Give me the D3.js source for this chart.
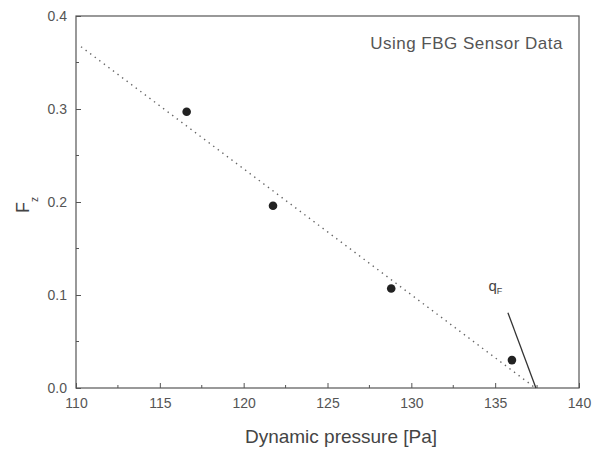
<!DOCTYPE html>
<html>
<head>
<meta charset="utf-8">
<script src="https://cdn.jsdelivr.net/npm/d3@7"></script>
<style>
  body { margin: 0; background: #fff; }
  text { font-family: "Liberation Sans", Arial, sans-serif; }
</style>
</head>
<body>
<svg id="chart" width="595" height="450"></svg>
<script>
var pressure = [116.6, 121.75, 128.8, 136.0];
var fz = [0.297, 0.196, 0.107, 0.030];
var fitX = [110.3, 137.4];
var fitY = [0.367, 0.0];
var arrowX = [135.76, 137.43];
var arrowY = [0.081, 0.0];
var xTicks = [110, 115, 120, 125, 130, 135, 140];
var yTicks = [0.0, 0.1, 0.2, 0.3, 0.4];

var svg = d3.select("#chart");
var margin = { top: 16, right: 16, bottom: 62, left: 76 },
    width = 595 - margin.left - margin.right,
    height = 450 - margin.top - margin.bottom;

var g = svg.append("g").attr("transform", "translate(" + margin.left + "," + margin.top + ")");

var x = d3.scaleLinear().domain([110, 140]).range([0, width]);
var y = d3.scaleLinear().domain([0, 0.4]).range([height, 0]);

var axisColor = "#555";

// minor ticks
var xMinor = d3.range(112.5, 140, 5);
var yMinor = d3.range(0.05, 0.4, 0.1);

var xAxis = g.append("g")
    .attr("transform", "translate(0," + height + ")")
    .call(d3.axisBottom(x).tickValues(xTicks).tickFormat(d3.format("d")).tickSizeInner(-5).tickSizeOuter(0).tickPadding(10));
var yAxis = g.append("g")
    .call(d3.axisLeft(y).tickValues(yTicks).tickFormat(d3.format(".1f")).tickSizeInner(-5).tickSizeOuter(0).tickPadding(9));

[xAxis, yAxis].forEach(function (a) {
    a.select(".domain").remove();
    a.selectAll("line").attr("stroke", axisColor);
    a.selectAll("text").attr("fill", "#555").style("font-size", "14px");
});

g.append("g").selectAll("line")
    .data(xMinor)
    .enter()
    .append("line")
    .attr("x1", function (d) { return x(d); })
    .attr("x2", function (d) { return x(d); })
    .attr("y1", height)
    .attr("y2", height - 3)
    .attr("stroke", axisColor);
g.append("g").selectAll("line")
    .data(yMinor)
    .enter()
    .append("line")
    .attr("x1", 0)
    .attr("x2", 3)
    .attr("y1", function (d) { return y(d); })
    .attr("y2", function (d) { return y(d); })
    .attr("stroke", axisColor);

// frame
g.append("rect")
    .attr("width", width)
    .attr("height", height)
    .attr("fill", "none")
    .attr("stroke", axisColor)
    .attr("stroke-width", 1.2);

// fitted dotted line
g.append("line")
    .attr("x1", x(fitX[0])).attr("y1", y(fitY[0]))
    .attr("x2", x(fitX[1])).attr("y2", y(fitY[1]))
    .attr("stroke", "#666")
    .attr("stroke-width", 1.4)
    .attr("stroke-dasharray", "1.4,4.3");

// q_F pointer
g.append("line")
    .attr("x1", x(arrowX[0])).attr("y1", y(arrowY[0]))
    .attr("x2", x(arrowX[1])).attr("y2", y(arrowY[1]))
    .attr("stroke", "#333")
    .attr("stroke-width", 1.3);

g.selectAll("circle")
    .data(pressure)
    .enter()
    .append("circle")
    .attr("cx", function (d) { return x(d); })
    .attr("cy", function (d, i) { return y(fz[i]); })
    .attr("r", 4.3)
    .attr("fill", "#222");

// labels
var qf = g.append("text")
    .attr("x", x(134.6))
    .attr("y", y(0.104))
    .attr("fill", "#444")
    .style("font-size", "15px");
qf.append("tspan").text("q");
qf.append("tspan").attr("dy", 3).style("font-size", "9px").text("F");

g.append("text")
    .attr("x", width - 16)
    .attr("y", 33)
    .attr("text-anchor", "end")
    .attr("fill", "#555")
    .style("font-size", "17px")
    .style("letter-spacing", "0.5px")
    .text("Using FBG Sensor Data");

svg.append("text")
    .attr("x", 341)
    .attr("y", 443)
    .attr("text-anchor", "middle")
    .attr("fill", "#444")
    .style("font-size", "19px")
    .text("Dynamic pressure [Pa]");

var yl = svg.append("text")
    .attr("transform", "translate(29,205) rotate(-90)")
    .attr("text-anchor", "middle")
    .attr("fill", "#444")
    .style("font-size", "18px");
yl.append("tspan").text("F");
yl.append("tspan").attr("dy", 9).style("font-size", "10px").text("z");
</script>
</body>
</html>
